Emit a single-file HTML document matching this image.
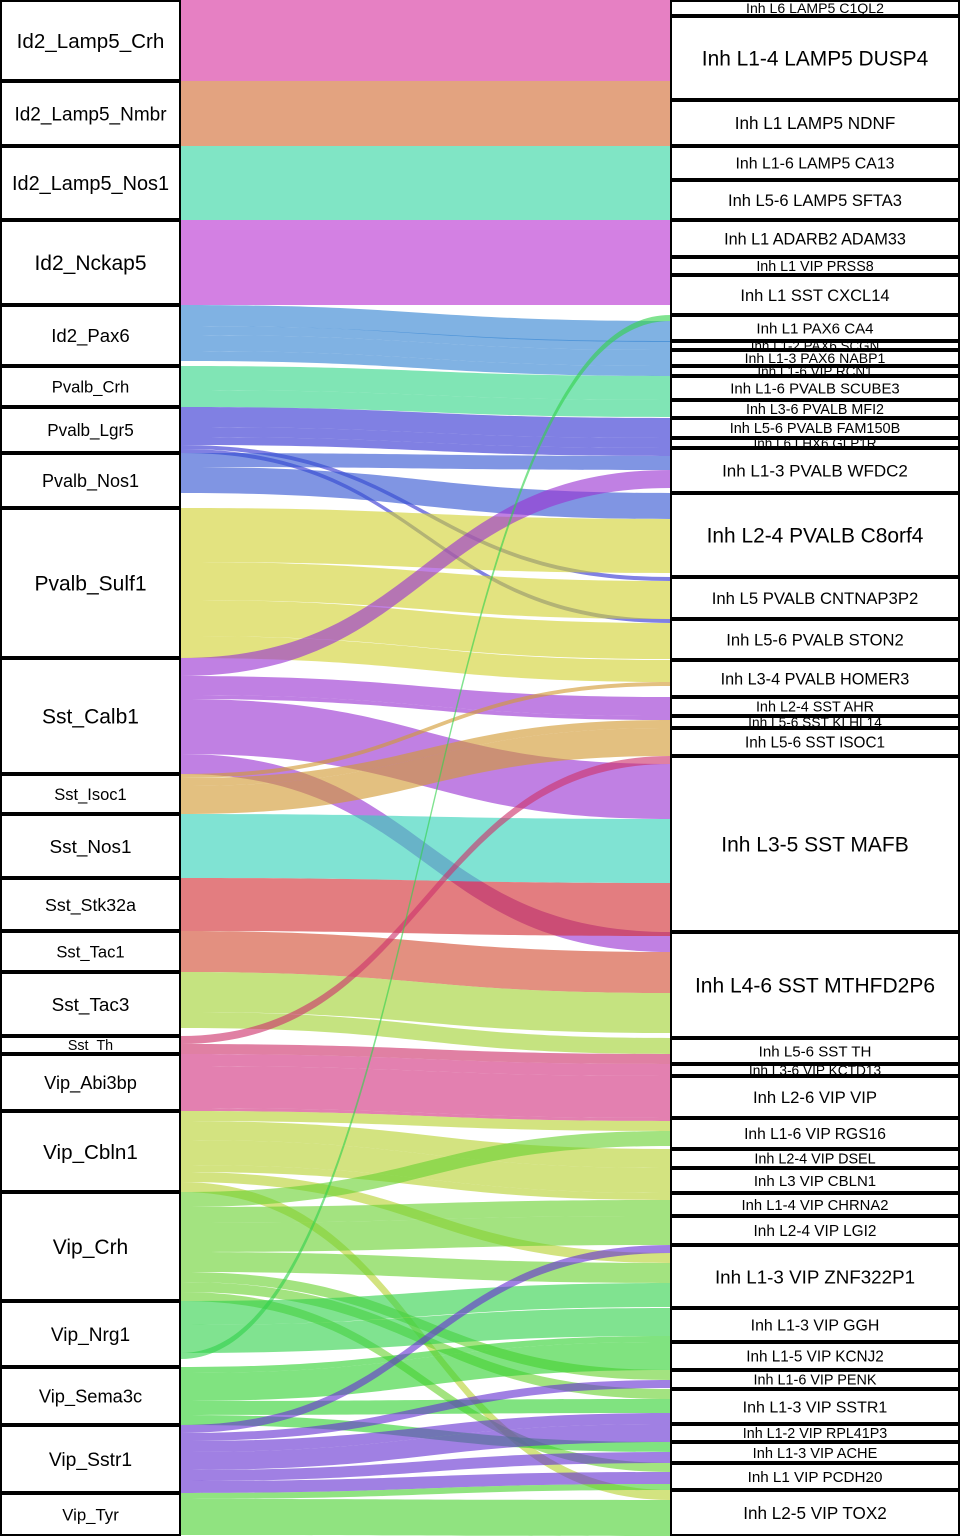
<!DOCTYPE html>
<html><head><meta charset="utf-8">
<style>
html,body{margin:0;padding:0;background:#fff;}
svg{display:block;}
text{font-family:"Liberation Sans",sans-serif;fill:#000;}
</style></head>
<body>
<svg id="chart" width="960" height="1536" viewBox="0 0 960 1536" xmlns="http://www.w3.org/2000/svg">
<g id="flows"></g>
<g id="nodes"></g>
</svg>
<script>
const leftLabels = ["Id2_Lamp5_Crh","Id2_Lamp5_Nmbr","Id2_Lamp5_Nos1","Id2_Nckap5","Id2_Pax6","Pvalb_Crh","Pvalb_Lgr5","Pvalb_Nos1","Pvalb_Sulf1","Sst_Calb1","Sst_Isoc1","Sst_Nos1","Sst_Stk32a","Sst_Tac1","Sst_Tac3","Sst_Th","Vip_Abi3bp","Vip_Cbln1","Vip_Crh","Vip_Nrg1","Vip_Sema3c","Vip_Sstr1","Vip_Tyr"];
const leftSizes = [81,65,74,85,61,41,46,55,150,116,40,64,53,41,64,18,57,81,109,66,58,68,43];
const leftColors = ["#e680c3","#e3a380","#80e5c5","#d380e3","#80b2e3","#80e5b5","#8080e3","#8095e3","#e3e380","#c080e3","#e3c080","#80e3d3","#e37d80","#e39080","#c5e380","#e080a3","#e380b0","#d3e380","#a3e380","#80e390","#80e380","#a080e3","#90e380"];
const rightLabels = ["Inh L6 LAMP5 C1QL2","Inh L1-4 LAMP5 DUSP4","Inh L1 LAMP5 NDNF","Inh L1-6 LAMP5 CA13","Inh L5-6 LAMP5 SFTA3","Inh L1 ADARB2 ADAM33","Inh L1 VIP PRSS8","Inh L1 SST CXCL14","Inh L1 PAX6 CA4","Inh L1-2 PAX6 SCGN","Inh L1-3 PAX6 NABP1","Inh L1-6 VIP RCN1","Inh L1-6 PVALB SCUBE3","Inh L3-6 PVALB MFI2","Inh L5-6 PVALB FAM150B","Inh L6 LHX6 GLP1R","Inh L1-3 PVALB WFDC2","Inh L2-4 PVALB C8orf4","Inh L5 PVALB CNTNAP3P2","Inh L5-6 PVALB STON2","Inh L3-4 PVALB HOMER3","Inh L2-4 SST AHR","Inh L5-6 SST KLHL14","Inh L5-6 SST ISOC1","Inh L3-5 SST MAFB","Inh L4-6 SST MTHFD2P6","Inh L5-6 SST TH","Inh L3-6 VIP KCTD13","Inh L2-6 VIP VIP","Inh L1-6 VIP RGS16","Inh L2-4 VIP DSEL","Inh L3 VIP CBLN1","Inh L1-4 VIP CHRNA2","Inh L2-4 VIP LGI2","Inh L1-3 VIP ZNF322P1","Inh L1-3 VIP GGH","Inh L1-5 VIP KCNJ2","Inh L1-6 VIP PENK","Inh L1-3 VIP SSTR1","Inh L1-2 VIP RPL41P3","Inh L1-3 VIP ACHE","Inh L1 VIP PCDH20","Inh L2-5 VIP TOX2"];
const rightSizes = [16,84,46,34,40,37,18,40,26,9,16,10,24,18,20,10,45,84,42,41,37,19,12,28,176,106,26,12,42,31,19,25,23,29,63,34,28,19,35,18,21,27,46];
const flowSrc = [0,0, 1,1, 2,2, 3,3,3, 4,4,4,4, 5,5, 6,6,6,6,6, 7,7, 8,8,8,8, 9,9,9,9,9, 10,10,10, 11, 12, 13, 14,14, 15,15, 16,16,16, 17,17,17,17,17,17, 18,18,18,18,18,18,18, 19,19,19, 20,20,20,20, 21,21,21,21,21,21, 22,22];
const flowTgt = [0,1, 1,2, 3,4, 5,6,7, 8,9,10,11, 12,13, 14,15,16,18,19, 16,17, 17,18,19,20, 16,21,22,24,25, 20,22,23, 24, 24, 25, 25,26, 24,26, 27,28,29, 29,30,31,32,34,42, 29,32,33,34,37,38,41, 34,35,8, 35,36,38,40, 34,37,38,39,40,41, 41,42];
const flowVal = [16,65, 19,46, 34,40, 37,18,30, 21,9,16,10, 24,17, 20,10,8,4,4, 14,26, 54,38,36,22, 18,19,4,55,20, 4,8,28, 64, 53, 41, 40,16, 8,10, 12,42,3, 10,19,25,7,10,10, 15,16,29,20,10,10,9, 24,28,6, 6,28,14,10, 8,8,11,18,11,12, 6,36];
// flows (by index) stacked first at their target stratum
const rightFirst = [39, 59, 64];

const H = 1536, LX0 = 0, LX1 = 181, RX0 = 670, RX1 = 960;
const NS = "http://www.w3.org/2000/svg";
const ALPHA = 0.62;
function yScaleL(v){ return v * H / leftSizes.reduce((a,b)=>a+b,0); }
function yScaleR(v){ return v * H / rightSizes.reduce((a,b)=>a+b,0); }
function baseColor(hex){
  const r=parseInt(hex.substr(1,2),16),g=parseInt(hex.substr(3,2),16),b=parseInt(hex.substr(5,2),16);
  const f=c=>Math.max(0,Math.min(255,Math.round((c-255*(1-ALPHA))/ALPHA)));
  return `rgb(${f(r)},${f(g)},${f(b)})`;
}
const leftTop=[], rightTop=[];
let acc=0; leftSizes.forEach(s=>{leftTop.push(yScaleL(acc)); acc+=s;});
acc=0; rightSizes.forEach(s=>{rightTop.push(yScaleR(acc)); acc+=s;});
const idx = flowSrc.map((_,i)=>i);
const lCur = leftTop.slice(), rCur = rightTop.slice();
const lPos={}, rPos={};
[...idx].sort((a,b)=>flowSrc[a]-flowSrc[b]||a-b).forEach(i=>{
  lPos[i]=lCur[flowSrc[i]]; lCur[flowSrc[i]]+=yScaleL(flowVal[i]);
});
const rk=i=>rightFirst.includes(i)?-1:flowSrc[i];
[...idx].sort((a,b)=>flowTgt[a]-flowTgt[b]||rk(a)-rk(b)||a-b).forEach(i=>{
  rPos[i]=rCur[flowTgt[i]]; rCur[flowTgt[i]]+=yScaleR(flowVal[i]);
});
const gF=document.getElementById('flows');
const xm=(LX1+RX0)/2;
idx.forEach(i=>{
  const h0=yScaleL(flowVal[i]), h1=yScaleR(flowVal[i]);
  const a=lPos[i], b=rPos[i];
  const d=`M${LX1},${a} C${xm},${a} ${xm},${b} ${RX0},${b} L${RX0},${b+h1} C${xm},${b+h1} ${xm},${a+h0} ${LX1},${a+h0} Z`;
  const p=document.createElementNS(NS,'path');
  p.setAttribute('d',d);
  p.setAttribute('fill',baseColor(leftColors[flowSrc[i]]));
  p.setAttribute('fill-opacity',ALPHA);
  
  
  gF.appendChild(p);
});
const gN=document.getElementById('nodes');
function fs(h){ return Math.min(21, 12.5 + 0.1*h); }
function node(x0,x1,y,h,label,nm){
  const r=document.createElementNS(NS,'rect');
  r.setAttribute('x',x0+1); r.setAttribute('y',y+1); r.setAttribute('width',x1-x0-2); r.setAttribute('height',Math.max(0,h-2));
  r.setAttribute('fill','#fff'); r.setAttribute('stroke','#000'); r.setAttribute('stroke-width','2');
  
  
  gN.appendChild(r);
  const t=document.createElementNS(NS,'text');
  const s=fs(h);
  t.setAttribute('x',(x0+x1)/2); t.setAttribute('y',y+h/2+s*0.36);
  t.setAttribute('text-anchor','middle'); t.setAttribute('font-size',s);
  t.textContent=label;
  
  
  gN.appendChild(t);
}
leftLabels.forEach((l,i)=>node(LX0,LX1,leftTop[i],yScaleL(leftSizes[i]),l,'left-node-'+l.toLowerCase().replace(/_/g,'-')));
rightLabels.forEach((l,i)=>node(RX0,RX1,rightTop[i],yScaleR(rightSizes[i]),l,'right-node-'+l.toLowerCase().replace(/ /g,'-')));
</script>
</body></html>
